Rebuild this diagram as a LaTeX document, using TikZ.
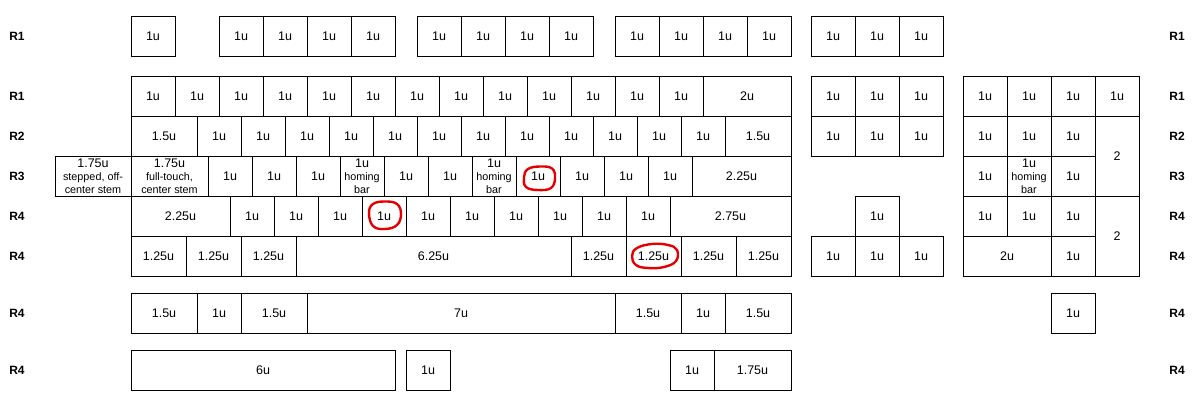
\documentclass[tikz,border=0pt]{standalone}
\usepackage{fontspec}
\setmainfont{Liberation Sans}
\begin{document}
\begin{tikzpicture}[x=1pt,y=-1pt,
  key/.style={draw, line width=0.9pt, inner sep=0pt, align=center, font=\fontsize{12.5}{14}\selectfont},
  small/.style={font=\fontsize{10.8}{12.8}\selectfont},
  rowlab/.style={font=\fontsize{12}{12}\selectfont\bfseries, inner sep=0pt},
  redring/.style={draw=red!90!black, line width=2.4pt}]
\useasboundingbox (0,0) rectangle (1194,407);
\newcommand\kk[7][]{\node[key,#1,minimum width=#5pt,minimum height=#6pt] (#2) at ({#3+#5/2},{#4+#6/2}) {#7};}
\newcommand\hb{{\fontsize{12.5}{13}\selectfont 1u}\\homing\\bar}
% ---- top function row
\kk{esc}{131}{16}{44}{40}{1u}
\kk{fa}{219}{16}{44}{40}{1u}
\kk{fb}{263}{16}{44}{40}{1u}
\kk{fc}{307}{16}{44}{40}{1u}
\kk{fd}{351}{16}{44}{40}{1u}
\kk{fe}{417}{16}{44}{40}{1u}
\kk{ff}{461}{16}{44}{40}{1u}
\kk{fg}{505}{16}{44}{40}{1u}
\kk{fh}{549}{16}{44}{40}{1u}
\kk{fi}{615}{16}{44}{40}{1u}
\kk{fj}{659}{16}{44}{40}{1u}
\kk{fk}{703}{16}{44}{40}{1u}
\kk{fl}{747}{16}{44}{40}{1u}
\kk{pa}{811}{16}{44}{40}{1u}
\kk{pb}{855}{16}{44}{40}{1u}
\kk{pc}{899}{16}{44}{40}{1u}
% ---- R1
\kk{aa}{131}{76}{44}{40}{1u}
\kk{ab}{175}{76}{44}{40}{1u}
\kk{ac}{219}{76}{44}{40}{1u}
\kk{ad}{263}{76}{44}{40}{1u}
\kk{ae}{307}{76}{44}{40}{1u}
\kk{af}{351}{76}{44}{40}{1u}
\kk{ag}{395}{76}{44}{40}{1u}
\kk{ah}{439}{76}{44}{40}{1u}
\kk{ai}{483}{76}{44}{40}{1u}
\kk{aj}{527}{76}{44}{40}{1u}
\kk{ak}{571}{76}{44}{40}{1u}
\kk{al}{615}{76}{44}{40}{1u}
\kk{am}{659}{76}{44}{40}{1u}
\kk{an}{703}{76}{88}{40}{2u}
\kk{na}{811}{76}{44}{40}{1u}
\kk{nb}{855}{76}{44}{40}{1u}
\kk{nc}{899}{76}{44}{40}{1u}
\kk{npa}{963}{76}{44}{40}{1u}
\kk{npb}{1007}{76}{44}{40}{1u}
\kk{npc}{1051}{76}{44}{40}{1u}
\kk{npd}{1095}{76}{44}{40}{1u}
% ---- R2
\kk{ba}{131}{116}{66}{40}{1.5u}
\kk{bb}{197}{116}{44}{40}{1u}
\kk{bc}{241}{116}{44}{40}{1u}
\kk{bd}{285}{116}{44}{40}{1u}
\kk{be}{329}{116}{44}{40}{1u}
\kk{bf}{373}{116}{44}{40}{1u}
\kk{bg}{417}{116}{44}{40}{1u}
\kk{bh}{461}{116}{44}{40}{1u}
\kk{bi}{505}{116}{44}{40}{1u}
\kk{bj}{549}{116}{44}{40}{1u}
\kk{bk}{593}{116}{44}{40}{1u}
\kk{bl}{637}{116}{44}{40}{1u}
\kk{bm}{681}{116}{44}{40}{1u}
\kk{bn}{725}{116}{66}{40}{1.5u}
\kk{nd}{811}{116}{44}{40}{1u}
\kk{ne}{855}{116}{44}{40}{1u}
\kk{nf}{899}{116}{44}{40}{1u}
\kk{npe}{963}{116}{44}{40}{1u}
\kk{npf}{1007}{116}{44}{40}{1u}
\kk{npg}{1051}{116}{44}{40}{1u}
\kk{nph}{1095}{116}{44}{80}{2}
% ---- R3
\kk[small]{cs}{55}{156}{76}{40}{{\fontsize{12.5}{13}\selectfont 1.75u}\\stepped, off-\\center stem}
\kk[small]{ca}{131}{156}{77}{40}{{\fontsize{12.5}{13}\selectfont 1.75u}\\full-touch,\\center stem}
\kk{cb}{208}{156}{44}{40}{1u}
\kk{cc}{252}{156}{44}{40}{1u}
\kk{cd}{296}{156}{44}{40}{1u}
\kk[small]{ce}{340}{156}{44}{40}{\hb}
\kk{cf}{384}{156}{44}{40}{1u}
\kk{cg}{428}{156}{44}{40}{1u}
\kk[small]{ch}{472}{156}{44}{40}{\hb}
\kk{ci}{516}{156}{44}{40}{1u}
\kk{cj}{560}{156}{44}{40}{1u}
\kk{ck}{604}{156}{44}{40}{1u}
\kk{cl}{648}{156}{44}{40}{1u}
\kk{cm}{692}{156}{99}{40}{2.25u}
\kk{npi}{963}{156}{44}{40}{1u}
\kk[small]{npj}{1007}{156}{44}{40}{\hb}
\kk{npk}{1051}{156}{44}{40}{1u}
% ---- R4
\kk{da}{131}{196}{99}{40}{2.25u}
\kk{db}{230}{196}{44}{40}{1u}
\kk{dc}{274}{196}{44}{40}{1u}
\kk{dd}{318}{196}{44}{40}{1u}
\kk{de}{362}{196}{44}{40}{1u}
\kk{df}{406}{196}{44}{40}{1u}
\kk{dg}{450}{196}{44}{40}{1u}
\kk{dh}{494}{196}{44}{40}{1u}
\kk{di}{538}{196}{44}{40}{1u}
\kk{dj}{582}{196}{44}{40}{1u}
\kk{dk}{626}{196}{44}{40}{1u}
\kk{dl}{670}{196}{121}{40}{2.75u}
\kk{ng}{855}{196}{44}{40}{1u}
\kk{npl}{963}{196}{44}{40}{1u}
\kk{npm}{1007}{196}{44}{40}{1u}
\kk{npn}{1051}{196}{44}{40}{1u}
\kk{npo}{1095}{196}{44}{80}{2}
% ---- R4 bottom
\kk{ea}{131}{236}{55}{40}{1.25u}
\kk{eb}{186}{236}{55}{40}{1.25u}
\kk{ec}{241}{236}{55}{40}{1.25u}
\kk{ed}{296}{236}{275}{40}{6.25u}
\kk{ee}{571}{236}{55}{40}{1.25u}
\kk{ef}{626}{236}{55}{40}{1.25u}
\kk{eg}{681}{236}{55}{40}{1.25u}
\kk{eh}{736}{236}{55}{40}{1.25u}
\kk{nh}{811}{236}{44}{40}{1u}
\kk{ni}{855}{236}{44}{40}{1u}
\kk{nj}{899}{236}{44}{40}{1u}
\kk{npp}{963}{236}{88}{40}{2u}
\kk{npq}{1051}{236}{44}{40}{1u}
% ---- alternative bottom rows
\kk{ga}{131}{293}{66}{40}{1.5u}
\kk{gb}{197}{293}{44}{40}{1u}
\kk{gc}{241}{293}{66}{40}{1.5u}
\kk{gd}{307}{293}{308}{40}{7u}
\kk{ge}{615}{293}{66}{40}{1.5u}
\kk{gf}{681}{293}{44}{40}{1u}
\kk{gg}{725}{293}{66}{40}{1.5u}
\kk{npr}{1051}{293}{44}{40}{1u}
\kk{ha}{131}{350}{264}{40}{6u}
\kk{hb}{406}{350}{44}{40}{1u}
\kk{hc}{670}{350}{44}{40}{1u}
\kk{hd}{714}{350}{77}{40}{1.75u}
% ---- row labels
\foreach \yy/\tt [count=\i] in {36/R1,96/R1,136/R2,176/R3,216/R4,256/R4,313/R4,370/R4}{
  \node[rowlab] (L\i) at (17,\yy) {\tt};
  \node[rowlab] (R\i) at (1177,\yy) {\tt};
}
% ---- red hand-drawn rings
\draw[redring] plot[smooth cycle, tension=0.7] coordinates {(524,177) (528,169) (540,166.5) (552,168.5) (555,178) (551,188) (538,190) (526,187)};
\draw[redring] plot[smooth cycle, tension=0.7] coordinates {(369,213) (373,204) (385,201.5) (397,204) (401,214) (397,225) (385,229) (373,226)};
\draw[redring] plot[smooth cycle, tension=0.7] coordinates {(632,256) (637,248) (652,244) (668,245) (677,250) (676,261) (664,267) (648,268) (636,265)};
\end{tikzpicture}
\end{document}
